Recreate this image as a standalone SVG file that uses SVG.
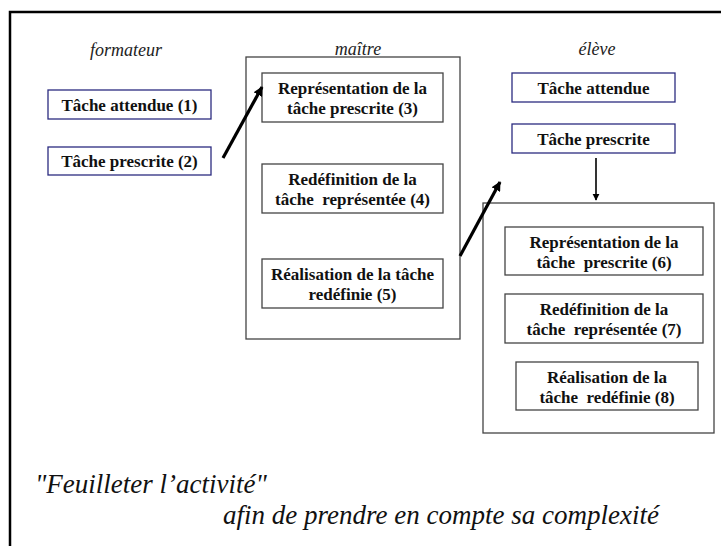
<svg xmlns="http://www.w3.org/2000/svg" width="721" height="546" viewBox="0 0 721 546">
<style>
text{font-family:'Liberation Serif','Times New Roman',Tinos,'Nimbus Roman',FreeSerif,'Noto Serif','DejaVu Serif',Times,serif}
.lbl{font-style:italic;font-size:18px;fill:#222;text-anchor:middle}
.t{font-weight:bold;font-size:17px;fill:#111;text-anchor:middle;white-space:pre}
.bb{fill:#fff;stroke:#2b2b80;stroke-width:1.3}
.gb{fill:#fff;stroke:#444;stroke-width:1.3}
.ct{fill:none;stroke:#444;stroke-width:1.3}
.big{font-style:italic;font-size:27px;fill:#111}
.thick{stroke:#000;stroke-width:3.2;fill:none}
.thin{stroke:#000;stroke-width:1.6;fill:none}
</style>
<defs>
<marker id="ah" viewBox="0 0 10 10" refX="9" refY="5" markerWidth="3" markerHeight="3" orient="auto" markerUnits="strokeWidth">
<path d="M0,0 L10,5 L0,10 z" fill="#000"/>
</marker>
<marker id="ah2" viewBox="0 0 10 10" refX="9" refY="5" markerWidth="4.5" markerHeight="4.5" orient="auto" markerUnits="strokeWidth">
<path d="M0,0 L10,5 L0,10 z" fill="#000"/>
</marker>
</defs>
<rect width="721" height="546" fill="#fff"/>
<path d="M10,546 V12 H721" fill="none" stroke="#000" stroke-width="2.5"/>

<text class="lbl" x="126" y="56">formateur</text>
<text class="lbl" x="358" y="55">maître</text>
<text class="lbl" x="597" y="55">élève</text>

<g id="maitre">
<rect class="ct" x="246" y="57" width="214" height="282"/>
</g>
<g id="eleve">
<rect class="ct" x="483" y="203" width="231" height="230"/>
</g>

<g id="n1"><rect class="bb" x="48" y="90" width="163" height="29"/><text class="t" x="129.5" y="110.5">Tâche attendue (1)</text></g>
<g id="n2"><rect class="bb" x="48" y="147" width="163" height="28"/><text class="t" x="129.5" y="167">Tâche prescrite (2)</text></g>

<g id="n3"><rect class="gb" x="262" y="73" width="181" height="49"/><text class="t" x="352.5" y="94">Représentation de la</text><text class="t" x="352.5" y="114">tâche prescrite (3)</text></g>
<g id="n4"><rect class="gb" x="262" y="164" width="181" height="49"/><text class="t" x="352.5" y="185">Redéfinition de la</text><text class="t" x="352.5" y="205">tâche  représentée (4)</text></g>
<g id="n5"><rect class="gb" x="262" y="259" width="181" height="49"/><text class="t" x="352.5" y="280">Réalisation de la tâche</text><text class="t" x="352.5" y="300">redéfinie (5)</text></g>

<g id="e1"><rect class="bb" x="512" y="73" width="163" height="29"/><text class="t" x="593.5" y="93.5">Tâche attendue</text></g>
<g id="e2"><rect class="bb" x="512" y="124" width="163" height="29"/><text class="t" x="593.5" y="144.5">Tâche prescrite</text></g>

<g id="n6"><rect class="gb" x="505" y="227" width="198" height="48"/><text class="t" x="604" y="247.5">Représentation de la</text><text class="t" x="604" y="267.5">tâche  prescrite (6)</text></g>
<g id="n7"><rect class="gb" x="505" y="294" width="198" height="49"/><text class="t" x="604" y="315">Redéfinition de la</text><text class="t" x="604" y="335">tâche  représentée (7)</text></g>
<g id="n8"><rect class="gb" x="516" y="362" width="182" height="48"/><text class="t" x="607" y="382.5">Réalisation de la</text><text class="t" x="607" y="402.5">tâche  redéfinie (8)</text></g>

<text class="big" x="35" y="493">"Feuilleter l’activité"</text>
<text class="big" x="223" y="524">afin de prendre en compte sa complexité</text>

<g id="connectors">
<line class="thick" x1="223" y1="158" x2="262" y2="87" marker-end="url(#ah)"/>
<line class="thick" x1="460" y1="256" x2="500" y2="182" marker-end="url(#ah)"/>
<line class="thin" x1="596" y1="158" x2="596" y2="200" marker-end="url(#ah2)"/>
</g>
</svg>
